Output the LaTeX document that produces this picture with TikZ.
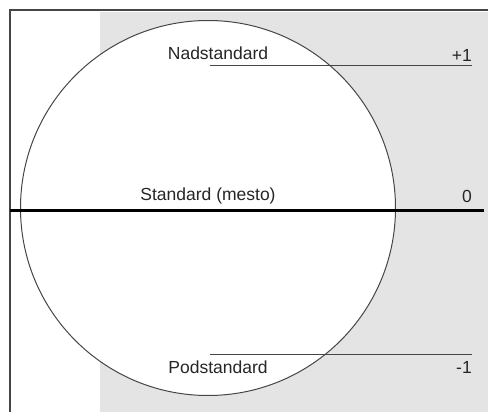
\documentclass[tikz,border=0pt]{standalone}
\usepackage{fontspec}
\setmainfont{Liberation Sans}
\usetikzlibrary{positioning}
\definecolor{panegray}{RGB}{228,228,228}
\definecolor{rim}{RGB}{70,70,70}

\begin{document}
\begin{tikzpicture}[
  x=1pt, y=-1pt,
  lbl/.style={inner sep=0pt, font=\fontsize{17.5}{19}\selectfont, text=black!85},
  lvl/.style={draw=rim, line width=1pt}
]
  \useasboundingbox (0,0) rectangle (488,412);
  % background and frame
  \fill[panegray] (100,12) rectangle (488,412);
  \draw[rim, line width=1.3pt] (488,10) -- (10,10) -- (10,412);
  \node[circle, draw=rim, fill=white, line width=1pt, minimum size=375pt, inner sep=0pt] (ball) at (208,208) {};

  % levels
  \coordinate (up1) at (210,66);  \coordinate (up2) at (472,66);
  \coordinate (lo1) at (210,354); \coordinate (lo2) at (472,354);
  \coordinate (mid1) at (10,210); \coordinate (mid2) at (484,210);
  \draw[lvl] (up1) -- (up2);
  \draw[lvl] (lo1) -- (lo2);
  \draw[black, line width=3pt] (mid1) -- (mid2);

  \node[lbl] (nad) at (218,53) {Nadstandard};
  \node[lbl] (std) at (208,196) {Standard (mesto)};
  \node[lbl] (pod) at (218,367) {Podstandard};
  \node[lbl, anchor=east] (p1) at (472,55) {+1};
  \node[lbl, anchor=east] (z0) at (472,196) {0};
  \node[lbl, anchor=east] (m1) at (472,367) {-1};
\end{tikzpicture}
\end{document}
